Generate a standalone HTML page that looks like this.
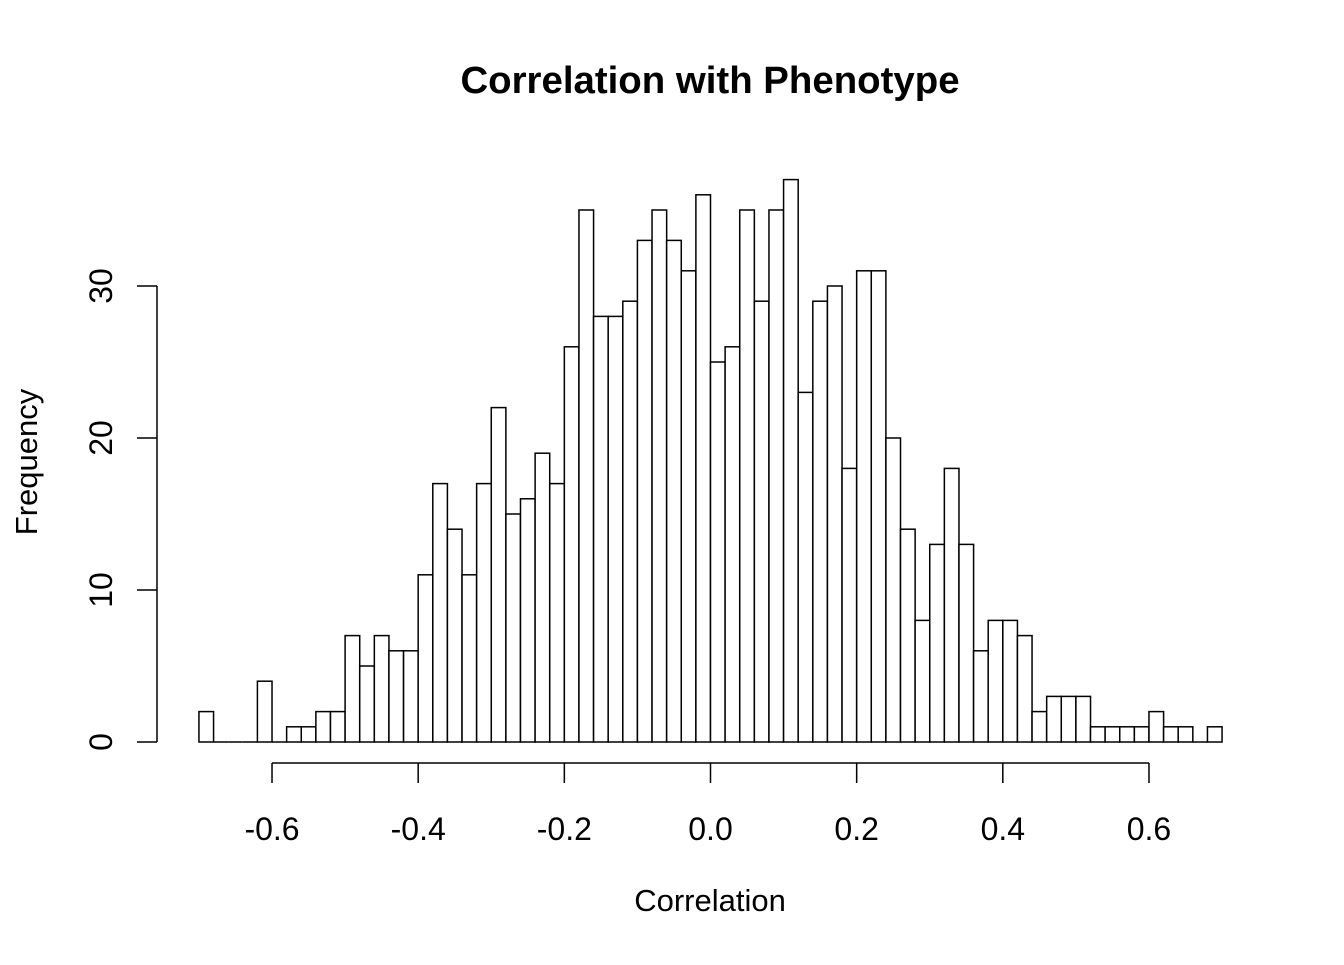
<!DOCTYPE html>
<html><head><meta charset="utf-8"><style>
html,body{margin:0;padding:0;background:#fff;}
svg text{font-family:"Liberation Sans",Arial,sans-serif;fill:#000;}
</style></head><body>
<svg id="chart" width="1344" height="960" xmlns="http://www.w3.org/2000/svg">
<rect width="1344" height="960" fill="#fff"/>
<text x="710" y="93" font-size="38.4" font-weight="bold" text-anchor="middle">Correlation with Phenotype</text>
<text x="710" y="911" font-size="31" text-anchor="middle">Correlation</text>
<text transform="translate(37,462) rotate(-90)" font-size="31" text-anchor="middle">Frequency</text>
<g id="bars"></g>
<g id="xaxis"></g>
<g id="yaxis"></g>
</svg>
<script>
const binStart = -0.70;
const binWidth = 0.02;
const counts = [2,0,0,0,4,0,1,1,2,2,7,5,7,6,6,11,17,14,11,17,22,15,16,19,17,26,35,28,28,29,33,35,33,31,36,25,26,35,29,35,37,23,29,30,18,31,31,20,14,8,13,18,13,6,8,8,7,2,3,3,3,1,1,1,1,2,1,1,0,1];
const xTicks = [-0.6,-0.4,-0.2,0.0,0.2,0.4,0.6];
const xTickLabels = ["-0.6","-0.4","-0.2","0.0","0.2","0.4","0.6"];
const yTicks = [0,10,20,30];
const yTickLabels = ["0","10","20","30"];

const NS = "http://www.w3.org/2000/svg";
function xs(v){ return 710.5 + v*730.8; }
function ys(v){ return 742 - v*15.2; }
function mk(tag, attrs, parent){ const e=document.createElementNS(NS,tag); for(const k in attrs) e.setAttribute(k,attrs[k]); parent.appendChild(e); return e; }

const bars=document.getElementById('bars');
counts.forEach((c,i)=>{
  const x0=xs(binStart+i*binWidth), x1=xs(binStart+(i+1)*binWidth);
  let r;
  if(c>0){
    r=mk('rect',{x:x0,y:ys(c),width:x1-x0,height:ys(0)-ys(c),fill:'#fff',stroke:'#000','stroke-width':1.5},bars);
  } else {
    r=mk('line',{x1:x0,x2:x1,y1:ys(0),y2:ys(0),stroke:'#000','stroke-width':1.5},bars);
  }
  
  
});

const xa=document.getElementById('xaxis');
mk('line',{x1:xs(xTicks[0]),x2:xs(xTicks[xTicks.length-1]),y1:763,y2:763,stroke:'#000','stroke-width':1.5},xa);
xTicks.forEach((t,i)=>{
  mk('line',{x1:xs(t),x2:xs(t),y1:763,y2:783,stroke:'#000','stroke-width':1.5},xa);
  const tx=mk('text',{x:xs(t),y:840,'font-size':32,'text-anchor':'middle'},xa);
  tx.textContent=xTickLabels[i];
  
  
});

const ya=document.getElementById('yaxis');
mk('line',{x1:157,x2:157,y1:ys(yTicks[0]),y2:ys(yTicks[yTicks.length-1]),stroke:'#000','stroke-width':1.5},ya);
yTicks.forEach((t,i)=>{
  mk('line',{x1:137,x2:157,y1:ys(t),y2:ys(t),stroke:'#000','stroke-width':1.5},ya);
  const tx=mk('text',{transform:`translate(112,${ys(t)}) rotate(-90)`,'font-size':32,'text-anchor':'middle'},ya);
  tx.textContent=yTickLabels[i];
  
  
});
</script>
</body></html>
